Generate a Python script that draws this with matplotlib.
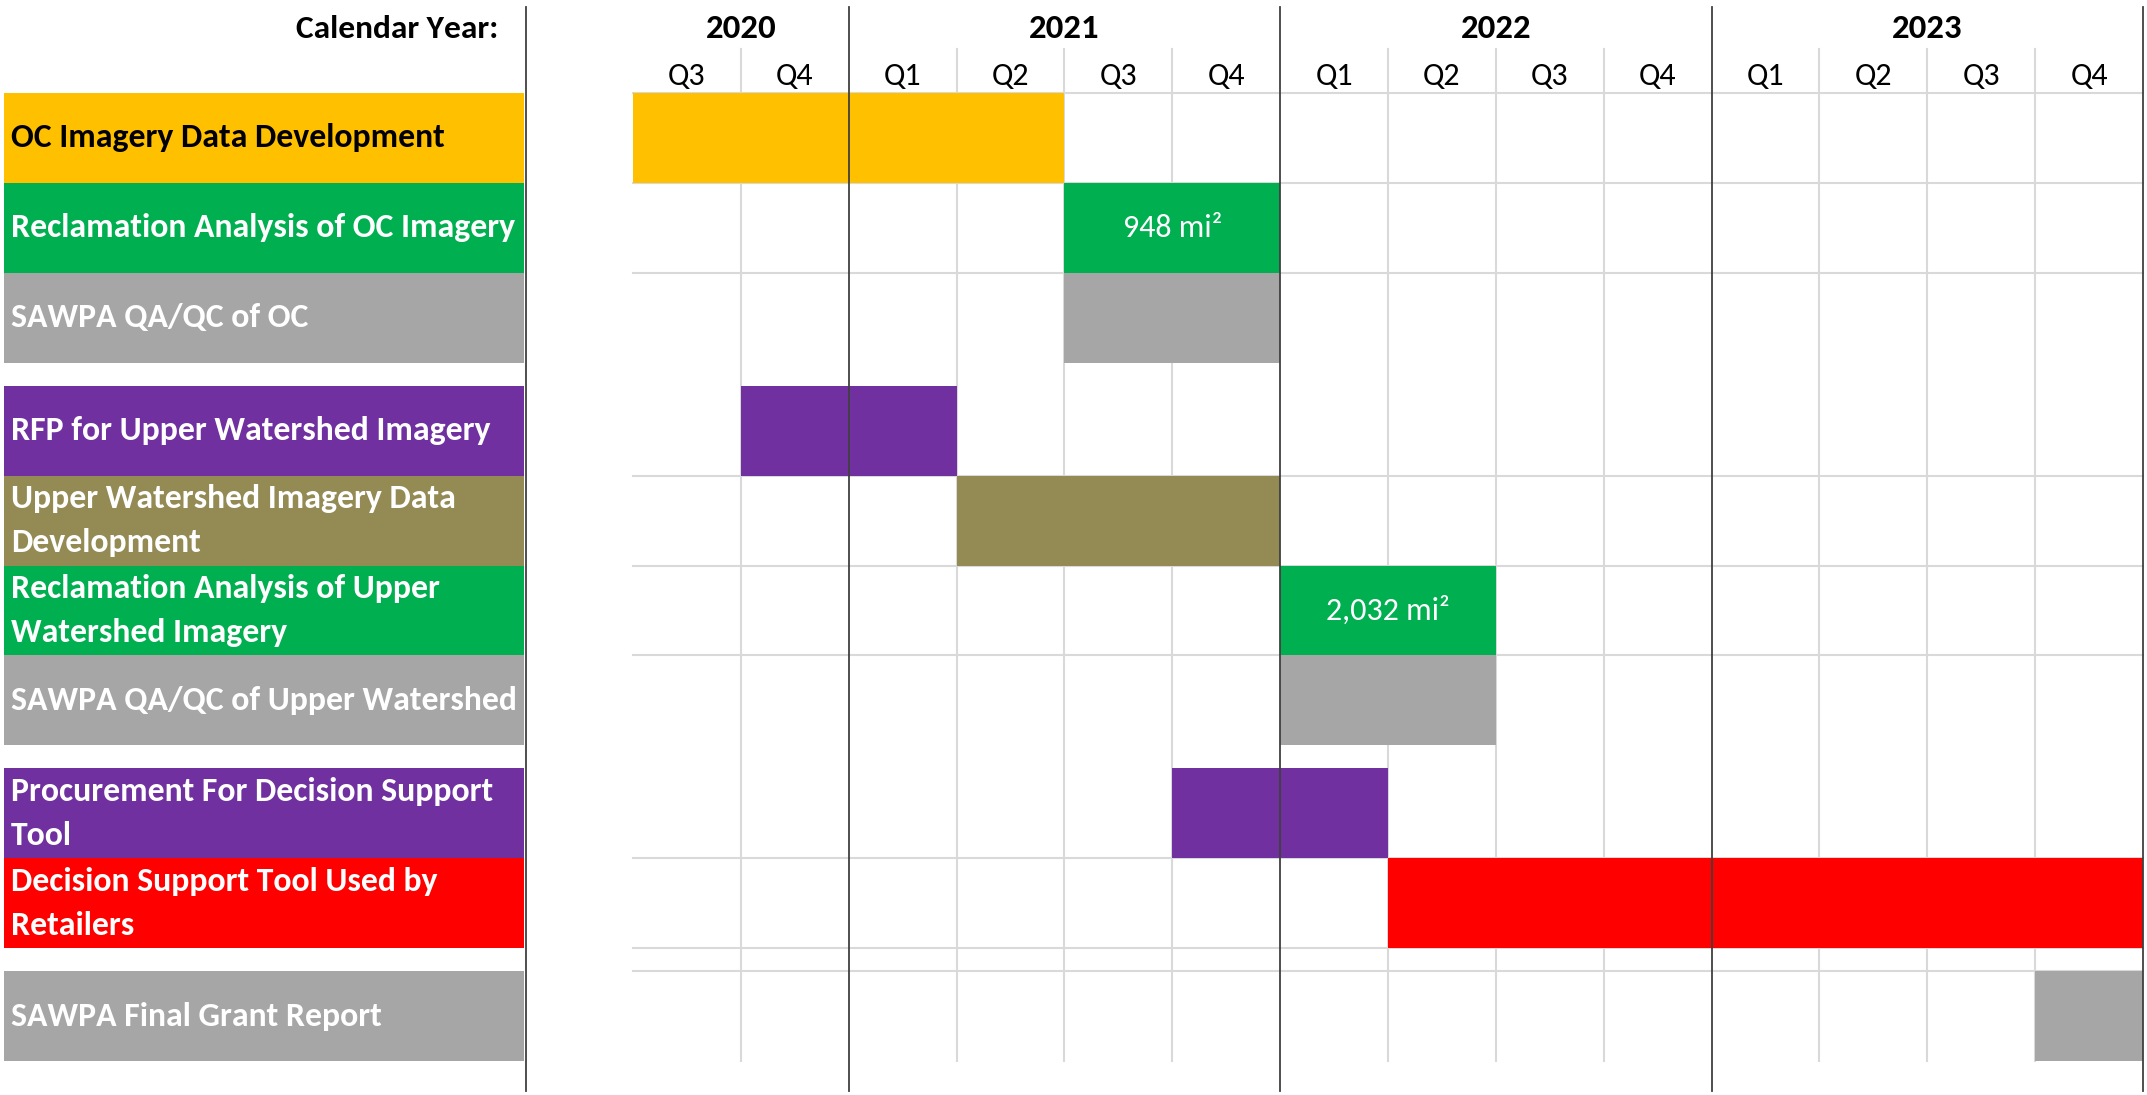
import matplotlib
matplotlib.use("Agg")
import matplotlib.pyplot as plt

# schedule data (quarters counted from 2020 Q3)
tasks = [
    "OC Imagery Data Development",
    "Reclamation Analysis of OC Imagery",
    "SAWPA QA/QC of OC",
    "RFP for Upper Watershed Imagery",
    "Upper Watershed Imagery Data\nDevelopment",
    "Reclamation Analysis of Upper\nWatershed Imagery",
    "SAWPA QA/QC of Upper Watershed",
    "Procurement For Decision Support\nTool",
    "Decision Support Tool Used by\nRetailers",
    "SAWPA Final Grant Report",
]
groups = [0, 0, 0, 1, 1, 1, 1, 2, 2, 3]
start_q = [0, 4, 4, 1, 3, 6, 6, 5, 7, 13]
length_q = [4, 2, 2, 2, 3, 2, 2, 2, 7, 1]
colors = ["#FFC000", "#00B050", "#A6A6A6", "#7030A0", "#948A54",
          "#00B050", "#A6A6A6", "#7030A0", "#FF0000", "#A6A6A6"]
label_colors = ["black"] + ["white"] * 9
bar_notes = ["", "948 mi²", "", "", "", "2,032 mi²", "", "", "", ""]

years = ["2020", "2021", "2022", "2023"]
quarters_per_year = [2, 4, 4, 4]
quarter_labels = ["Q3", "Q4", "Q1", "Q2", "Q3", "Q4", "Q1", "Q2",
                  "Q3", "Q4", "Q1", "Q2", "Q3", "Q4"]

FONT = ["Carlito", "Liberation Sans Narrow", "DejaVu Sans"]
plt.rcParams["font.family"] = FONT

W, H = 2147, 1095
fig = plt.figure(figsize=(W / 100, H / 100), dpi=100)

gap = 0.255
ys = [i + g * gap for i, g in enumerate(groups)]
total = len(tasks) + groups[-1] * gap
nq = len(quarter_labels)

grid_top, grid_bot = 93, 1061
ax = fig.add_axes([633 / W, 1 - grid_bot / H, (2143 - 633) / W, (grid_bot - grid_top) / H])
lab = fig.add_axes([4 / W, 1 - grid_bot / H, (524 - 4) / W, (grid_bot - grid_top) / H])
for a in (ax, lab):
    a.set_ylim(total, 0)
    a.axis("off")
ax.set_xlim(0, nq)
lab.set_xlim(0, 1)

light = "#D9D9D9"
dark = "#404040"
row_px = (grid_bot - grid_top) / total

# horizontal grid lines
hlines = [ys[0]]
for i in range(1, len(ys)):
    if groups[i] == groups[i - 1]:
        hlines.append(ys[i])
hlines += [ys[-2] + 1, ys[-1]]
for y in hlines:
    ax.plot([0, nq], [y, y], color=light, lw=1.5, zorder=1, clip_on=False)

# vertical grid lines
q_top = -(93 - 49) / row_px
year_edges = [0]
for n in quarters_per_year:
    year_edges.append(year_edges[-1] + n)
for q in range(1, nq):
    if q not in year_edges:
        ax.plot([q, q], [q_top, total], color=light, lw=1.5, zorder=1, clip_on=False)

# bars
ax.barh(ys, length_q, left=start_q, height=1, align="edge", color=colors,
        edgecolor="none", zorder=2)
for y, s, l, note in zip(ys, start_q, length_q, bar_notes):
    if note:
        ax.text(s + l / 2, y + 0.5, note, ha="center", va="center",
                color="white", fontsize=23, zorder=4)

# year separators (dark lines over bars)
line_top = -(93 - 7) / row_px
line_bot = total + (1091 - grid_bot) / row_px
left_line = (526 - 633) / ((2143 - 633) / nq)
for x in year_edges[1:] + [left_line]:
    ax.plot([x, x], [line_top, line_bot], color=dark, lw=1.3, zorder=5, clip_on=False)

# header
year_y = -(93 - 29) / row_px
q_y = -(93 - 76) / row_px
for yr, a, b in zip(years, year_edges[:-1], year_edges[1:]):
    ax.text((a + b) / 2, year_y, yr, ha="center", va="center", fontsize=25,
            fontweight="bold", clip_on=False)
for i, ql in enumerate(quarter_labels):
    ax.text(i + 0.5, q_y, ql, ha="center", va="center", fontsize=23, clip_on=False)
lab.text(0.95, year_y, "Calendar Year:", ha="right", va="center", fontsize=24,
         fontweight="bold", clip_on=False)

# label column
lab.barh(ys, 1, left=0, height=1, align="edge", color=colors, edgecolor="none")
for y, t, c in zip(ys, tasks, label_colors):
    lab.text(0.013, y + 0.5, t, ha="left", va="center", fontsize=24.3,
             fontweight="bold", color=c, linespacing=1.62)

fig.savefig("out.png", dpi=100, facecolor="white")
